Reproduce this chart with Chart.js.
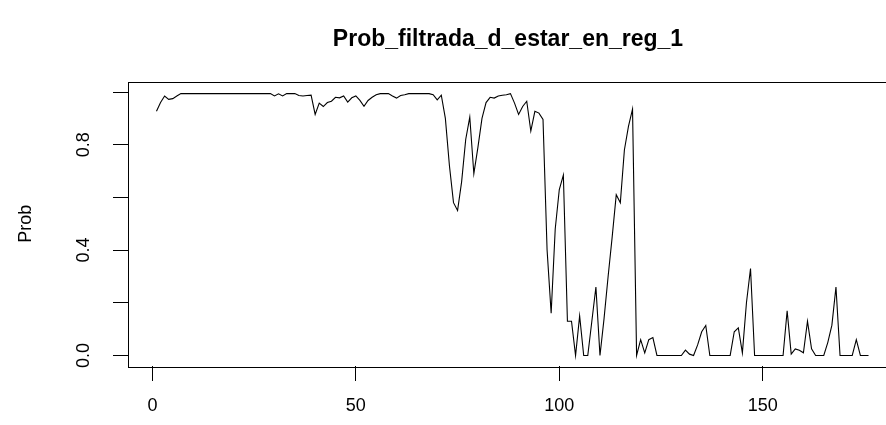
<!DOCTYPE html>
<html><head><meta charset="utf-8">
<script src="https://cdn.jsdelivr.net/npm/chart.js@4.4.1/dist/chart.umd.min.js"></script>
<style>
html,body{margin:0;padding:0;background:#fff;overflow:hidden;width:886px;height:425px}
#wrap{position:absolute;left:0;top:0;width:910px;height:425px}
</style>
</head><body><div id="wrap"><canvas id="c" width="910" height="425"></canvas></div>
<script>
const chartTitle = 'Prob_filtrada_d_estar_en_reg_1';
const yAxisTitle = 'Prob';
const probValues = [
 0.927,0.960,0.985,0.972,0.975,0.985,0.994,0.994,0.994,0.994,
 0.994,0.994,0.994,0.994,0.994,0.994,0.994,0.994,0.994,0.994,
 0.994,0.994,0.994,0.994,0.994,0.994,0.994,0.994,0.994,0.985,
 0.993,0.985,0.994,0.994,0.994,0.987,0.985,0.987,0.988,0.915,
 0.958,0.945,0.960,0.965,0.980,0.978,0.985,0.962,0.978,0.985,
 0.968,0.946,0.968,0.980,0.990,0.994,0.994,0.994,0.985,0.977,
 0.987,0.990,0.994,0.994,0.994,0.994,0.994,0.994,0.990,0.970,
 0.988,0.900,0.720,0.580,0.550,0.660,0.820,0.905,0.690,0.790,
 0.900,0.960,0.980,0.977,0.985,0.988,0.990,0.994,0.958,0.915,
 0.945,0.965,0.852,0.927,0.920,0.896,0.400,0.160,0.480,0.630,
 0.685,0.130,0.130,0.000,0.150,0.000,0.000,0.130,0.260,0.000,
 0.140,0.300,0.450,0.610,0.580,0.780,0.870,0.935,0.000,0.060,
 0.010,0.060,0.068,0.000,0.000,0.000,0.000,0.000,0.000,0.000,
 0.020,0.005,0.000,0.040,0.090,0.114,0.000,0.000,0.000,0.000,
 0.000,0.000,0.090,0.105,0.010,0.200,0.330,0.000,0.000,0.000,
 0.000,0.000,0.000,0.000,0.000,0.170,0.005,0.025,0.020,0.010,
 0.130,0.025,0.000,0.000,0.000,0.050,0.115,0.260,0.000,0.000,
 0.000,0.000,0.060,0.000,0.000,0.000
];
const xTickValues = [0, 50, 100, 150];
const xTickLabels = ['0', '50', '100', '150'];
const yTickValues = [0, 0.2, 0.4, 0.6, 0.8, 1.0];
const yTickLabels = ['0.0', '', '0.4', '', '0.8', ''];

const FONT = '"Liberation Sans", Arial, sans-serif';

const rPlot = {
  id: 'rPlot',
  afterDraw(chart) {
    const ctx = chart.ctx;
    const a = chart.chartArea;
    const ys = chart.scales.y;
    ctx.save();
    ctx.strokeStyle = '#000';
    ctx.lineWidth = 1;
    ctx.strokeRect(Math.round(a.left) + 0.5, Math.round(a.top) + 0.5,
                   Math.round(a.right - a.left), Math.round(a.bottom - a.top));
    ctx.fillStyle = '#000';
    ctx.font = '18px ' + FONT;
    ctx.textAlign = 'center';
    ctx.textBaseline = 'middle';
    yTickValues.forEach((v, i) => {
      if (!yTickLabels[i]) return;
      const py = ys.getPixelForValue(v);
      ctx.save();
      ctx.translate(84, py);
      ctx.rotate(-Math.PI / 2);
      ctx.fillText(yTickLabels[i], 0, 0);
      ctx.restore();
    });
    ctx.save();
    ctx.translate(26, (a.top + a.bottom) / 2);
    ctx.rotate(-Math.PI / 2);
    ctx.fillText(yAxisTitle, 0, 0);
    ctx.restore();
    ctx.font = 'bold 23px ' + FONT;
    ctx.fillText(chartTitle, 508, 40);
    ctx.restore();
  }
};

new Chart(document.getElementById('c'), {
  type: 'line',
  data: {
    datasets: [{
      data: probValues.map((v, i) => ({ x: i + 1, y: v })),
      borderColor: '#000',
      borderWidth: 1.1,
      pointRadius: 0,
      tension: 0,
      fill: false
    }]
  },
  options: {
    responsive: false,
    animation: false,
    devicePixelRatio: 1,
    layout: { padding: { left: 0, right: 13, top: 81.5, bottom: 0 } },
    plugins: { legend: { display: false }, tooltip: { enabled: false }, title: { display: false } },
    scales: {
      x: {
        type: 'linear', position: 'bottom', min: -6, max: 183,
        afterBuildTicks: s => { s.ticks = xTickValues.map(v => ({ value: v })); },
        afterFit: s => { s.height = 59; },
        grid: { drawOnChartArea: false, drawTicks: true, tickLength: 15, color: '#000', tickColor: '#000', lineWidth: 1 },
        border: { display: false },
        ticks: { color: '#000', font: { family: FONT, size: 18 }, padding: 14, maxRotation: 0, minRotation: 0,
                 callback: (v, i) => xTickLabels[i] }
      },
      y: {
        type: 'linear', position: 'left', min: -0.04, max: 1.04,
        afterBuildTicks: s => { s.ticks = yTickValues.map(v => ({ value: v })); },
        afterFit: s => { s.width = 128; },
        grid: { drawOnChartArea: false, drawTicks: true, tickLength: 15, color: '#000', tickColor: '#000', lineWidth: 1 },
        border: { display: false },
        ticks: { display: false }
      }
    }
  },
  plugins: [rPlot]
});
</script>
</body></html>
